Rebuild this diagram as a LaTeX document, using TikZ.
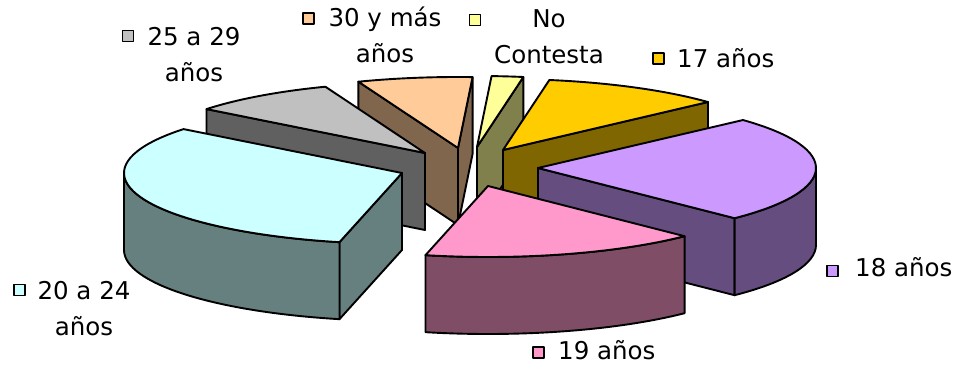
\documentclass[tikz,border=0pt]{standalone}
\usepackage{fontspec}
\setmainfont{DejaVu Sans}
\definecolor{cyT}{HTML}{CCFFFF}\definecolor{cyS}{HTML}{668080}
\definecolor{grT}{HTML}{C0C0C0}\definecolor{grS}{HTML}{606060}
\definecolor{peT}{HTML}{FFCC99}\definecolor{peS}{HTML}{80664D}
\definecolor{ncT}{HTML}{FFFF99}\definecolor{ncS}{HTML}{80804D}
\definecolor{goT}{HTML}{FFCC00}\definecolor{goS}{HTML}{806600}
\definecolor{puT}{HTML}{CC99FF}\definecolor{puS}{HTML}{664D80}
\definecolor{piT}{HTML}{FF99CC}\definecolor{piS}{HTML}{804D66}
\begin{document}
\begin{tikzpicture}[x=1pt,y=1pt,line join=round,
  edge/.style={draw=black,line width=1.9pt},
  ell/.style={x radius=278pt,y radius=71pt},
  lbl/.style={font=\fontsize{24.5}{36}\selectfont,inner sep=0pt},
  key/.style={draw=black,line width=1.6pt,minimum size=11pt,inner sep=0pt}]
\useasboundingbox (0,0) rectangle (964,369);
% No Contesta
\begin{scope}[shift={(477,222)}]
 \filldraw[edge,fill=ncS] (0,0) -- (80.4:278pt and 71pt) -- ++(0,-77) -- (0,-77) -- cycle;
 \filldraw[edge,fill=ncT] (0,0) -- (80.4:278pt and 71pt) arc[ell,start angle=80.4,end angle=87] -- cycle;
\end{scope}
% 17 anos
\begin{scope}[shift={(503,219)}]
 \filldraw[edge,fill=goS] (0,0) -- (42.5:278pt and 71pt) -- ++(0,-77) -- (0,-77) -- cycle;
 \filldraw[edge,fill=goT] (0,0) -- (42.5:278pt and 71pt) arc[ell,start angle=42.5,end angle=80.4] -- cycle;
\end{scope}
% 30 y mas
\begin{scope}[shift={(458,221)}]
 \filldraw[edge,fill=peS] (0,0) -- (87:278pt and 71pt) -- ++(0,-77) -- (0,-77) -- cycle;
 \filldraw[edge,fill=peS] (0,0) -- (111:278pt and 71pt) -- ++(0,-77) -- (0,-77) -- cycle;
 \filldraw[edge,fill=peT] (0,0) -- (87:278pt and 71pt) arc[ell,start angle=87,end angle=111] -- cycle;
\end{scope}
% 25 a 29
\begin{scope}[shift={(425,216)}]
 \filldraw[edge,fill=grS] (0,0) -- (141.8:278pt and 71pt) -- ++(0,-77) -- (0,-77) -- cycle;
 \filldraw[edge,fill=grT] (0,0) -- (111:278pt and 71pt) arc[ell,start angle=111,end angle=141.8] -- cycle;
\end{scope}
% 18 anos
\begin{scope}[shift={(538,201)}]
 \filldraw[edge,fill=puS] (0,0) -- (-45:278pt and 71pt) -- ++(0,-77) -- (0,-77) -- cycle;
 \filldraw[edge,fill=puS] (-45:278pt and 71pt) arc[ell,start angle=-45,end angle=0] -- ++(0,-77) arc[ell,start angle=0,end angle=-45] -- cycle;
 \filldraw[edge,fill=puT] (0,0) -- (-45:278pt and 71pt) arc[ell,start angle=-45,end angle=42.5] -- cycle;
\end{scope}
% 20 a 24
\begin{scope}[shift={(402,196)}]
 \filldraw[edge,fill=cyS] (0,0) -- (257:278pt and 71pt) -- ++(0,-77) -- (0,-77) -- cycle;
 \filldraw[edge,fill=cyS] (180:278pt and 71pt) arc[ell,start angle=180,end angle=257] -- ++(0,-77) arc[ell,start angle=257,end angle=180] -- cycle;
 \filldraw[edge,fill=cyT] (0,0) -- (141.8:278pt and 71pt) arc[ell,start angle=141.8,end angle=257] -- cycle;
\end{scope}
% 19 anos
\begin{scope}[shift={(488,183)}]
 \filldraw[edge,fill=piS] (257:278pt and 71pt) arc[ell,start angle=257,end angle=315] -- ++(0,-77) arc[ell,start angle=315,end angle=257] -- cycle;
 \filldraw[edge,fill=piT] (0,0) -- (257:278pt and 71pt) arc[ell,start angle=257,end angle=315] -- cycle;
\end{scope}
% legend
\node[key,fill=grT] (k2529) at (128,333) {};
\node[lbl,anchor=base,align=center] (t2529) at (194,287) {25 a 29\\años};
\node[key,fill=peT] (k30) at (308.5,350.5) {};
\node[lbl,anchor=base,align=center] (t30) at (385,306) {30 y más\\años};
\node[key,fill=ncT] (knc) at (475,349) {};
\node[lbl,anchor=base,align=center] (tnc) at (549,305) {No\\Contesta};
\node[key,fill=goT] (k17) at (658.5,310.5) {};
\node[lbl,anchor=base west] (t17) at (677,301) {17 años};
\node[key,fill=puT] (k18) at (832.5,98) {};
\node[lbl,anchor=base west] (t18) at (855,92) {18 años};
\node[key,fill=piT] (k19) at (538.5,16.5) {};
\node[lbl,anchor=base west] (t19) at (558,9) {19 años};
\node[key,fill=cyT] (k2024) at (19.5,79) {};
\node[lbl,anchor=base,align=center] (t2024) at (84,33) {20 a 24\\años};
\end{tikzpicture}
\end{document}
